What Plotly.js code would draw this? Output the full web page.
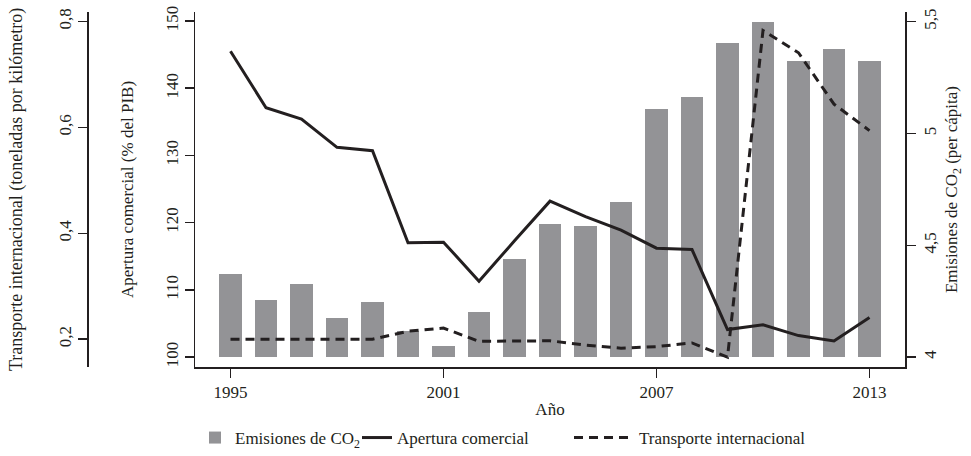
<!DOCTYPE html>
<html>
<head>
<meta charset="utf-8">
<script src="https://cdn.plot.ly/plotly-3.0.1.min.js"></script>
<style>html,body{margin:0;padding:0;background:#fff}#chart{width:971px;height:456px}</style>
</head>
<body>
<div id="chart"></div>
<script>
const years = [1995,1996,1997,1998,1999,2000,2001,2002,2003,2004,2005,2006,2007,2008,2009,2010,2011,2012,2013];
const co2 = [4.374,4.257,4.328,4.173,4.248,4.118,4.049,4.200,4.439,4.594,4.585,4.692,5.109,5.162,5.406,5.499,5.326,5.379,5.322];
const apertura = [145.5,137.1,135.4,131.2,130.7,117.0,117.1,111.3,117.3,123.2,120.9,118.9,116.2,116.0,104.1,104.8,103.2,102.4,105.9];
const transporte = [0.200,0.200,0.200,0.200,0.200,0.215,0.221,0.196,0.196,0.197,0.189,0.183,0.186,0.193,0.166,0.783,0.741,0.644,0.594];
const xTicks = [1995,2001,2007,2013];
const co2Ticks = [4,4.5,5,5.5];
const aperturaTicks = [100,110,120,130,140,150];
const transporteTicks = [0.2,0.4,0.6,0.8];
const co2Base = 4;

const ink = '#231f20';
const font = {family: '"Liberation Serif", "Times New Roman", serif', size: 17, color: ink};
const bigFont = Object.assign({}, font, {size: 18});
const W = 971;

const traces = [
  {type:'bar', x: years, y: co2.map(v => v - co2Base), base: co2Base, yaxis:'y',
   width: 0.62, marker:{color:'#939396', line:{width:0}},
   name:'Emisiones de CO<sub>2</sub>', legend:'legend', showlegend:true},
  {type:'scatter', mode:'lines', x: years, y: apertura, yaxis:'y2',
   line:{color: ink, width: 3}, name:'Apertura comercial', legend:'legend2', showlegend:true},
  {type:'scatter', mode:'lines', x: years, y: transporte, yaxis:'y3',
   line:{color: ink, width: 3, dash:'9px,6px'}, name:'Transporte internacional', legend:'legend3', showlegend:true}
];

const axCommon = {showgrid:false, zeroline:false, showline:true, linecolor: ink, linewidth:1.5,
  ticks:'outside', ticklen:9, tickwidth:1.5, tickcolor: ink, tickfont: font};

const layout = {
  width: 971, height: 456,
  margin: {l:0, r:0, t:12, b:86},
  paper_bgcolor:'#fff', plot_bgcolor:'#fff',
  font: font,
  separators: ',.',
  bargap: 0,
  xaxis: Object.assign({}, axCommon, {domain:[195/W, 905/W], range:[1994, 2014],
    tickvals: xTicks, ticktext: xTicks.map(String),
    title:{text:'Año', font: font, standoff: 2}}),
  yaxis: Object.assign({}, axCommon, {side:'right', anchor:'x', range:[3.956, 5.543],
    tickvals: co2Ticks, tickangle:-90,
    title:{text:'Emisiones de CO<sub>2</sub> (per cápita)', font: font, standoff: 6}}),
  yaxis2: Object.assign({}, axCommon, {overlaying:'y', side:'left', anchor:'x', range:[98.53, 151.33],
    tickvals: aperturaTicks, tickangle:-90,
    title:{text:'Apertura comercial (% del PIB)', font: font, standoff: 25}}),
  yaxis3: Object.assign({}, axCommon, {overlaying:'y', side:'left', anchor:'free', position: 87/W,
    range:[0.1475, 0.818], tickvals: transporteTicks, tickformat:'.1f', tickangle:-90,
    title:{text:'Transporte internacional (toneladas por kilómetro)', font: bigFont, standoff: 27}}),
  legend: {orientation:'h', x:(213-18)/W, xanchor:'left', y:-0.2, yanchor:'middle', font: font, bgcolor:'rgba(0,0,0,0)'},
  legend2: {orientation:'h', x:(366-9)/W, xanchor:'left', y:-0.2, yanchor:'middle', font: font, bgcolor:'rgba(0,0,0,0)'},
  legend3: {orientation:'h', x:(600-31)/W, xanchor:'left', y:-0.2, yanchor:'middle', font: font, bgcolor:'rgba(0,0,0,0)', itemwidth: 60},
  showlegend: true
};

Plotly.newPlot('chart', traces, layout, {displayModeBar:false, staticPlot:true});
</script>
</body>
</html>
